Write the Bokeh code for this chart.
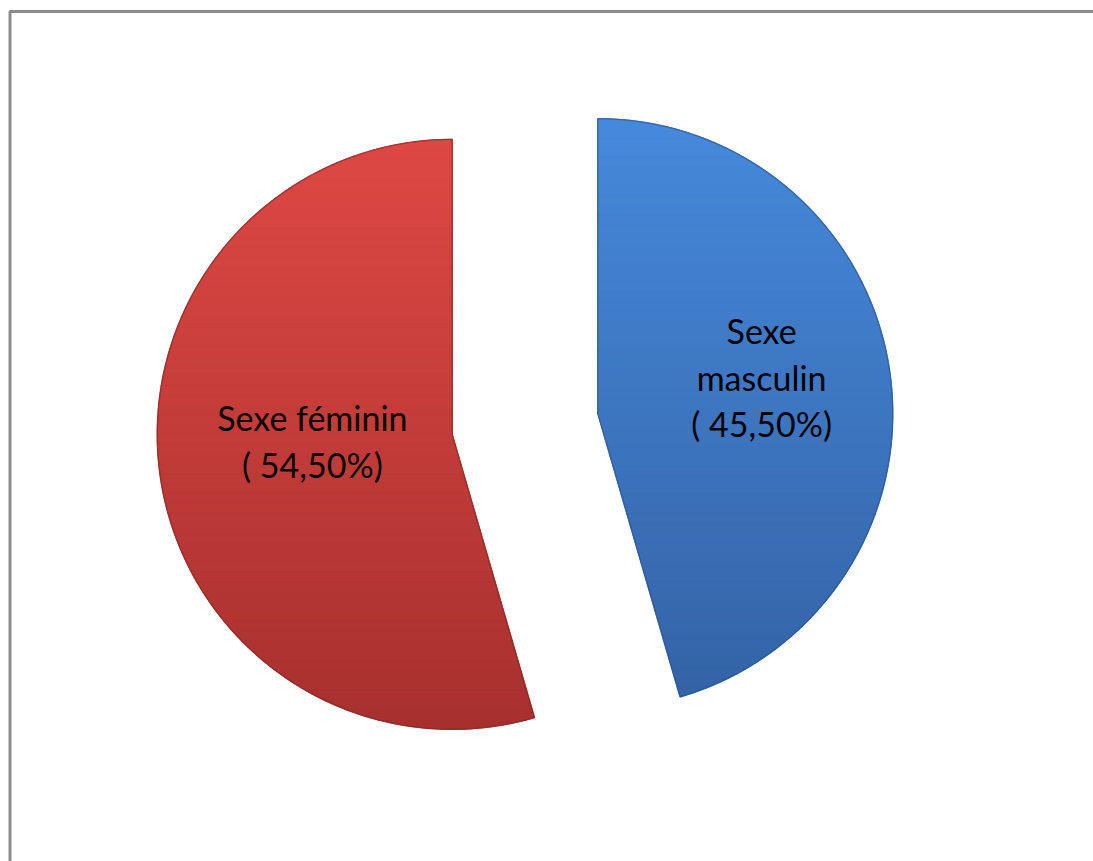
import numpy as np
from bokeh.plotting import figure
from bokeh.models import Range1d
from bokeh.embed import file_html
from bokeh.resources import INLINE
from bokeh.core.properties import value

# ---- data ----
categories = ["Sexe masculin", "Sexe féminin"]
percentages = [45.5, 54.5]
label_texts = ["Sexe\nmasculin\n( 45,50%)", "Sexe féminin\n( 54,50%)"]
top_colors = ["#4689db", "#de4844"]
bottom_colors = ["#3463a6", "#a7302e"]
edge_colors = ["#27508a", "#7e2221"]

# ---- layout ----
W, H = 1093, 861
CX, CY, R = 524.5, 423.5, 295.0
EXPLODE = 73.5
LABEL_FRAC = 0.52
LABEL_SHIFT = (12.0, -15.0)
N_BANDS = 60

p = figure(width=W, height=H, x_range=Range1d(0, W), y_range=Range1d(H, 0),
           output_backend="svg", toolbar_location=None, min_border=0,
           x_axis_location=None, y_axis_location=None)
p.grid.visible = False
p.outline_line_color = None
p.background_fill_color = "white"
p.border_fill_color = "white"

# frame: only top and left edges fall inside the window
p.line(x=[W + 20, 9.5, 9.5], y=[11, 11, H + 20], line_color="#8c8c8c", line_width=3)


def wedge_poly(cx, cy, r, a0, a1, n=240):
    ang = np.radians(np.linspace(a0, a1, n))
    xs = np.concatenate([[cx], cx + r * np.cos(ang)])
    ys = np.concatenate([[cy], cy - r * np.sin(ang)])
    return list(zip(xs, ys))


def clip_half(poly, y0, keep_above):
    def inside(pt):
        return pt[1] >= y0 if keep_above else pt[1] <= y0

    out = []
    if not poly:
        return out
    prev = poly[-1]
    for cur in poly:
        ci, pi = inside(cur), inside(prev)
        if ci:
            if not pi:
                t = (y0 - prev[1]) / (cur[1] - prev[1])
                out.append((prev[0] + t * (cur[0] - prev[0]), y0))
            out.append(cur)
        elif pi:
            t = (y0 - prev[1]) / (cur[1] - prev[1])
            out.append((prev[0] + t * (cur[0] - prev[0]), y0))
        prev = cur
    return out


def hex2rgb(h):
    h = h.lstrip("#")
    return np.array([int(h[i:i + 2], 16) for i in (0, 2, 4)], dtype=float)


def mix(c0, c1, t):
    c = hex2rgb(c0) * (1 - t) + hex2rgb(c1) * t
    return "#%02x%02x%02x" % tuple(int(round(v)) for v in c)


start = 90.0
band_xs, band_ys, band_cols = [], [], []
outline_xs, outline_ys, outline_cols = [], [], []
lab_x, lab_y = [], []
for i, pct in enumerate(percentages):
    sweep = pct / 100.0 * 360.0
    a0, a1 = start, start - sweep
    mid = np.radians(start - sweep / 2.0)
    start = a1
    cx = CX + EXPLODE * np.cos(mid)
    cy = CY - EXPLODE * np.sin(mid)
    poly = wedge_poly(cx, cy, R, a0, a1)
    ys_all = [pt[1] for pt in poly]
    ymin, ymax = min(ys_all), max(ys_all)
    edges = np.linspace(ymin, ymax, N_BANDS + 1)
    band_xs.append([pt[0] for pt in poly])
    band_ys.append([pt[1] for pt in poly])
    band_cols.append(mix(top_colors[i], bottom_colors[i], 0.5))
    for k in range(N_BANDS):
        piece = clip_half(poly, edges[k], True)
        piece = clip_half(piece, edges[k + 1] + 1.0, False)
        if len(piece) < 3:
            continue
        band_xs.append([pt[0] for pt in piece])
        band_ys.append([pt[1] for pt in piece])
        band_cols.append(mix(top_colors[i], bottom_colors[i], (k + 0.5) / N_BANDS))
    outline_xs.append([pt[0] for pt in poly])
    outline_ys.append([pt[1] for pt in poly])
    outline_cols.append(edge_colors[i])
    lab_x.append(cx + LABEL_FRAC * R * np.cos(mid) + LABEL_SHIFT[0])
    lab_y.append(cy - LABEL_FRAC * R * np.sin(mid) + LABEL_SHIFT[1])

p.patches(band_xs, band_ys, fill_color=band_cols, line_color=band_cols,
          line_width=0.8)
p.patches(outline_xs, outline_ys, fill_color=None, line_color=outline_cols,
          line_width=1.5, line_alpha=0.55)

p.text(x=lab_x, y=lab_y, text=label_texts, text_font=value("Lato"),
       text_font_size="34px", text_color="black", text_align="center",
       text_baseline="middle", text_line_height=1.13)

# white strip over the right edge of the canvas
p.quad(left=[W - 8], right=[W + 10], top=[14], bottom=[H + 10],
       fill_color="white", line_color=None)

open("out.html", "w").write(file_html(p, INLINE))
